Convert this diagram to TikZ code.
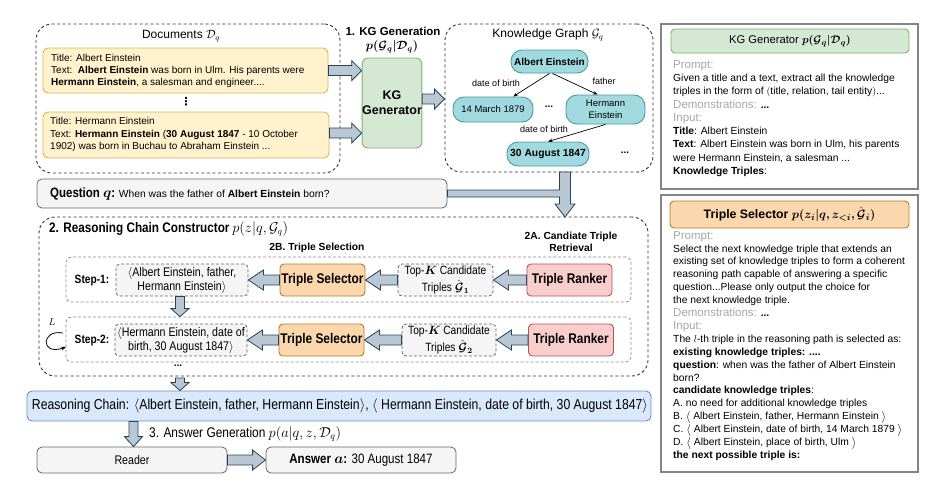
\documentclass[tikz,border=0pt]{standalone}
\usepackage{amsmath,amssymb}
\usepackage{bm}
\usepackage{graphicx}
\usepackage{fontspec}
\setmainfont{Liberation Sans}
\newfontfamily\nf[FakeStretch=0.85]{Liberation Sans}
\newfontfamily\djv{DejaVu Sans}
\usetikzlibrary{calc,arrows.meta}
\definecolor{ylwF}{HTML}{FFF2CC}\definecolor{ylwD}{HTML}{D6B656}
\definecolor{grnF}{HTML}{D5E8D4}\definecolor{grnD}{HTML}{82B366}
\definecolor{bluF}{HTML}{DAE8FC}\definecolor{bluD}{HTML}{6C8EBF}
\definecolor{orgF}{HTML}{FAD7AC}\definecolor{orgD}{HTML}{C07A1E}
\definecolor{redF}{HTML}{F8CECC}\definecolor{redD}{HTML}{B85450}
\definecolor{gryF}{HTML}{F5F5F5}\definecolor{gryD}{HTML}{666666}
\definecolor{tealF}{HTML}{A0DADE}\definecolor{tealD}{HTML}{4A9AA2}
\definecolor{arrF}{HTML}{BAC8D3}\definecolor{arrD}{HTML}{23445D}
\definecolor{promptgray}{HTML}{A6A6A6}
\definecolor{panelD}{HTML}{858585}
\newcommand\pl{\fontsize{11.5}{13}\selectfont\color{promptgray}}
\newcommand\lang{\smash{\raisebox{-0.5pt}{\scalebox{1.2}{$\langle$}}}}
\newcommand\rang{\smash{\raisebox{-0.5pt}{\scalebox{1.2}{$\rangle$}}}}
% right-pointing block arrow: from #2 (source anchor) to #3 (target anchor)
\newcommand\arrR[3][11pt]{\path[barrow] let \p1=(#2), \p2=(#3) in
  (\x1,\y1+5pt) -- (\x2-#1,\y1+5pt) -- (\x2-#1,\y1+10pt) -- (\x2,\y1)
  -- (\x2-#1,\y1-10pt) -- (\x2-#1,\y1-5pt) -- (\x1,\y1-5pt) -- cycle;}
% left-pointing block arrow
\newcommand\arrL[3][11pt]{\path[barrow] let \p1=(#2), \p2=(#3) in
  (\x1,\y1+5pt) -- (\x2+#1,\y1+5pt) -- (\x2+#1,\y1+10pt) -- (\x2,\y1)
  -- (\x2+#1,\y1-10pt) -- (\x2+#1,\y1-5pt) -- (\x1,\y1-5pt) -- cycle;}
% down-pointing block arrow: x from #2, start y from #3, end y from #4
\newcommand\arrD[4][9pt]{\path[barrow] let \p1=(#2), \p2=(#3), \p3=(#4) in
  (\x1-4.5pt,\y2) -- (\x1-4.5pt,\y3+#1) -- (\x1-9pt,\y3+#1) -- (\x1,\y3)
  -- (\x1+9pt,\y3+#1) -- (\x1+4.5pt,\y3+#1) -- (\x1+4.5pt,\y2) -- cycle;}
\tikzset{
  barrow/.style={draw=arrD, fill=arrF, line width=0.8pt, line join=miter},
  dashbox/.style={draw=black!80, line width=0.9pt, dash pattern=on 3pt off 2.5pt, rounded corners=16pt, inner sep=0pt},
  stepbox/.style={draw=black!45, line width=0.8pt, dash pattern=on 3pt off 2pt, rounded corners=5pt, inner sep=0pt},
  docbox/.style={draw=ylwD, fill=ylwF, line width=0.9pt, rounded corners=5pt, inner sep=0pt},
  greenbox/.style={draw=grnD, fill=grnF, line width=0.9pt, rounded corners=6pt, inner sep=0pt, align=center},
  orangebox/.style={draw=orgD, fill=orgF, line width=0.9pt, rounded corners=4pt, inner sep=0pt, align=center},
  redbox/.style={draw=redD, fill=redF, line width=0.9pt, rounded corners=4pt, inner sep=0pt, align=center},
  graybox/.style={draw=gryD, fill=gryF, line width=0.8pt, rounded corners=5pt, inner sep=0pt},
  dgraybox/.style={draw=gryD, fill=gryF, line width=0.8pt, dash pattern=on 3pt off 2pt, rounded corners=4pt, inner sep=0pt, align=center},
  bluebox/.style={draw=bluD, fill=bluF, line width=0.9pt, rounded corners=5pt, inner sep=0pt},
  entity/.style={draw=tealD, fill=tealF, line width=0.9pt, rounded corners=11pt, inner sep=0pt, align=center, font=\fontsize{9.5}{11.5}\selectfont},
  panel/.style={draw=panelD, line width=1.2pt, inner sep=0pt},
  txt/.style={inner sep=0pt, align=left},
  kgedge/.style={-{Stealth[length=4.5pt,width=3.5pt]}, line width=0.7pt},
  elabel/.style={inner sep=0pt, font=\fontsize{9}{11}\selectfont},
  steplab/.style={inner sep=0pt, font=\nf\bfseries\fontsize{12}{14}\selectfont},
  restxt/.style={font=\nf\fontsize{12.5}{14}\selectfont},
  topktxt/.style={font=\nf\fontsize{12}{17}\selectfont},
  bigtxt/.style={font=\nf\bfseries\fontsize{14}{16}\selectfont},
}
\begin{document}
\begin{tikzpicture}[x=1pt,y=-1pt]
\useasboundingbox (0,0) rectangle (934,488);

% ---------- Documents ----------
\node[dashbox, minimum width=304pt, minimum height=149pt] (docs) at (188,98.5) {};
\node[inner sep=0pt, font=\fontsize{12}{14}\selectfont] (docstitle) at (181,36) {Documents $\mathcal{D}_q$};
\node[docbox, minimum width=285pt, minimum height=45pt] (doc1) at (185.5,70.5) {};
\node[txt, anchor=west, font=\fontsize{10}{12}\selectfont] (doc1t) at (51,70.5) {Title: Albert Einstein\\
Text:\ \ \textbf{Albert Einstein} was born in Ulm. His parents were\\
\textbf{Hermann Einstein}, a salesman and engineer....};
\node[inner sep=0pt, font=\djv\bfseries\fontsize{11}{11}\selectfont] (vdots) at (186,102) {⋮};
\node[docbox, minimum width=286pt, minimum height=46pt] (doc2) at (186,135) {};
\node[txt, anchor=west, font=\fontsize{10}{12.5}\selectfont] (doc2t) at (50,134.5) {Title: Hermann Einstein\\
Text: \textbf{Hermann Einstein} (\textbf{30 August 1847} - 10 October\\
1902) was born in Buchau to Abraham Einstein ...};

% ---------- KG Generator ----------
\node[inner sep=0pt, font=\bfseries\fontsize{11.5}{14}\selectfont] (kgtitle) at (393,31) {1. KG Generation};
\node[inner sep=0pt, font=\fontsize{12}{14}\selectfont] (kgprob) at (392,47) {$\bm{p(\mathcal{G}_q|\mathcal{D}_q)}$};
\node[greenbox, minimum width=58pt, minimum height=90pt, font=\bfseries\fontsize{12.5}{15}\selectfont] (kggen) at (392,103) {KG\\Generator};

% ---------- Knowledge Graph ----------
\node[dashbox, minimum width=208pt, minimum height=148pt] (kgbox) at (549,98) {};
\node[inner sep=0pt, font=\fontsize{12}{14}\selectfont] (kgbtitle) at (548,35) {Knowledge Graph $\mathcal{G}_q$};
\node[entity, minimum width=77pt, minimum height=23pt] (ae) at (549.5,61.5) {\bfseries\fontsize{10}{12}\selectfont Albert Einstein};
\node[entity, minimum width=80pt, minimum height=25pt] (mar) at (493,109.5) {14 March 1879};
\node[entity, minimum width=79pt, minimum height=29pt] (he) at (605.5,109.5) {Hermann\\Einstein};
\node[entity, minimum width=82pt, minimum height=24pt] (aug) at (548,154) {\bfseries\fontsize{10.3}{12}\selectfont 30 August 1847};
\node[inner sep=0pt, font=\bfseries\fontsize{10}{12}\selectfont] (kgdots1) at (549,107) {...};
\node[inner sep=0pt, font=\bfseries\fontsize{10}{12}\selectfont] (kgdots2) at (625,153) {...};
\draw[kgedge] (ae.south) -- ($(mar.north)!0.5!(mar.north east)$);
\draw[kgedge] ($(ae.south)+(3,0)$) -- ($(he.north)!0.2!(he.north west)$);
\draw[kgedge] (he.south) -- (aug.north);
\node[elabel] (l1) at (496,83) {date of birth};
\node[elabel] (l2) at (604,81) {father};
\node[elabel] (l3) at (544,129) {date of birth};

% ---------- arrows into/out of KG generator ----------
\arrR[10pt]{doc1.east}{kggen.west}
\arrR[10pt]{$(doc2.east)+(0,-2)$}{kggen.west}
\arrR[10pt]{$(kggen.east)+(0,-4)$}{kgbox.west}

% ---------- Question ----------
\node[graybox, minimum width=410pt, minimum height=29pt] (question) at (242,193.5) {};
\node[txt, anchor=west] (qtext) at (50,194) {{\nf\bfseries\fontsize{13.5}{15}\selectfont Question $\bm{q}$:} {\fontsize{10.3}{12}\selectfont When was the father of \textbf{Albert Einstein} born?}};

% ---------- Reasoning chain constructor ----------
\node[dashbox, minimum width=609pt, minimum height=159pt] (rcbox) at (343.5,296.5) {};
\coordinate (kgout) at (565,172);
\coordinate (rcin) at (565,217);
\path[barrow] let \p1=(question.east), \p2=(kgout), \p3=(rcin) in
  (\x2+5.5pt,\y2) -- (\x2+5.5pt,\y3+13pt) -- (\x2+10pt,\y3+13pt) -- (\x2,\y3) -- (\x2-10pt,\y3+13pt)
  -- (\x2-5.5pt,\y3+13pt) -- (\x2-5.5pt,\y1-3.5pt) -- (\x1,\y1-3.5pt) -- (\x1,\y1+3.5pt)
  -- (\x2-5.5pt,\y1+3.5pt) -- (\x2-5.5pt,\y2) -- cycle;

\node[txt, anchor=west] (rctitle) at (49,229) {{\nf\bfseries\fontsize{13.8}{15}\selectfont 2. Reasoning Chain Constructor} {\fontsize{13.5}{14}\selectfont$p(z|q,\mathcal{G}_q)$}};
\node[inner sep=0pt, font=\bfseries\fontsize{10.3}{12}\selectfont] (sel) at (317,248) {2B. Triple Selection};
\node[inner sep=0pt, align=center, font=\bfseries\fontsize{10.3}{12.5}\selectfont] (ret) at (571,242) {2A. Candiate Triple\\Retrieval};

\node[stepbox, minimum width=565pt, minimum height=45pt] (s1box) at (348.5,279.5) {};
\node[stepbox, minimum width=565pt, minimum height=45pt] (s2box) at (348.5,339.5) {};
\node[steplab] (s1lab) at (92,281) {Step-1:};
\node[steplab] (s2lab) at (92,341) {Step-2:};

\node[dgraybox, restxt, minimum width=132pt, minimum height=32pt] (res1) at (182,280) {$\langle$Albert Einstein, father,\\Hermann Einstein$\rangle$};
\node[orangebox, bigtxt, minimum width=85pt, minimum height=32pt] (ts1) at (322.5,280) {Triple Selector};
\node[dgraybox, topktxt, minimum width=95pt, minimum height=32pt] (tk1) at (445.5,280) {Top-$\bm{K}$ Candidate\\Triples $\bm{\hat{\mathcal{G}}_1}$};
\node[redbox, bigtxt, minimum width=85pt, minimum height=32pt] (tr1) at (569.5,280) {Triple Ranker};

\node[dgraybox, restxt, minimum width=132pt, minimum height=32pt] (res2) at (181,340) {$\langle$Hermann Einstein, date of\\birth, 30 August 1847$\rangle$};
\node[orangebox, bigtxt, minimum width=85pt, minimum height=32pt] (ts2) at (321.5,340) {Triple Selector};
\node[dgraybox, topktxt, minimum width=94pt, minimum height=32pt] (tk2) at (449,340) {Top-$\bm{K}$ Candidate\\Triples $\bm{\hat{\mathcal{G}}_2}$};
\node[redbox, bigtxt, minimum width=85pt, minimum height=32pt] (tr2) at (571,340) {Triple Ranker};

\arrL[15pt]{tr1.west}{tk1.east}
\arrL[15pt]{tk1.west}{ts1.east}
\arrL[15pt]{ts1.west}{res1.east}
\arrL[15pt]{tr2.west}{tk2.east}
\arrL[15pt]{tk2.west}{ts2.east}
\arrL[15pt]{ts2.west}{res2.east}
\arrD[8pt]{$(res1.south)+(-2,0)$}{res1.south}{s2box.north}

\node[inner sep=0pt] (Lab) at (52,322) {$L$};
\coordinate (loopA) at (63,333);
\coordinate (loopB) at (66,347);
\draw[-{Stealth[length=5pt,width=4pt]}, line width=0.8pt] (loopA) .. controls (41,329) and (40,356) .. (loopB);

\node[inner sep=0pt, font=\bfseries\fontsize{10}{12}\selectfont] (rdots) at (178,366) {...};

% ---------- Reasoning chain ----------
\node[bluebox, minimum width=624pt, minimum height=30pt] (chain) at (339,406) {};
\node[inner sep=0pt, font=\nf\fontsize{14.4}{16}\selectfont] (chaint) at (340,406) {Reasoning Chain: $\langle$Albert Einstein, father, Hermann Einstein$\rangle$, $\langle$ Hermann Einstein, date of birth, 30 August 1847$\rangle$};
\coordinate (rcbot) at (180,378);
\arrD[8pt]{rcbot}{rcbot}{chain.north}

% ---------- Answer generation ----------
\node[graybox, minimum width=190pt, minimum height=26pt, font=\nf\fontsize{12.5}{14}\selectfont] (reader) at (132,460) {Reader};
\node[graybox, minimum width=190pt, minimum height=26pt, font=\nf\fontsize{13.6}{15}\selectfont] (answer) at (361,460) {\textbf{Answer} $\bm{a}$\textbf{:} 30 August 1847};
\node[inner sep=0pt, anchor=west, font=\nf\fontsize{14}{16}\selectfont] (agtitle) at (149,434) {3. Answer Generation $p(a|q,z,\mathcal{D}_q)$};
\arrD[10pt]{$(reader.north)+(1.5,0)$}{chain.south}{reader.north}
\arrR[13pt]{reader.east}{answer.west}

% ---------- Right panel: KG Generator prompt ----------
\node[panel, minimum width=257pt, minimum height=165pt] (p1) at (789.5,106.5) {};
\node[greenbox, rounded corners=4pt, minimum width=238pt, minimum height=24pt, font=\fontsize{11.2}{13}\selectfont] (p1h) at (790,41) {KG Generator $\bm{p(\mathcal{G}_q|\mathcal{D}_q)}$};
\node[txt, anchor=north west, font=\fontsize{10.3}{13.3}\selectfont] (p1t) at (673,60) {{\pl Prompt:}\\
Given a title and a text, extract all the knowledge\\
triples in the form of $($title, relation, tail entity$)$...\\
{\pl Demonstrations:} \textbf{...}\\
{\pl Input:}\\
\textbf{Title}: Albert Einstein\\
\textbf{Text}: Albert Einstein was born in Ulm, his parents\\
were Hermann Einstein, a salesman ...\\
\textbf{Knowledge Triples}:};

% ---------- Right panel: Triple Selector prompt ----------
\node[panel, minimum width=257pt, minimum height=277pt] (p2) at (789.5,333.5) {};
\node[orangebox, minimum width=239pt, minimum height=27pt, font=\bfseries\fontsize{12.3}{14}\selectfont] (p2h) at (789.5,214.5) {Triple Selector $\bm{p(z_i|q,z_{<i},\hat{\mathcal{G}}_i)}$};
\node[txt, anchor=north west, font=\fontsize{10.3}{12.9}\selectfont] (p2t) at (673,231) {{\pl Prompt:}\\
Select the next knowledge triple that extends an\\
existing set of knowledge triples to form a coherent\\
reasoning path capable of answering a specific\\
question...Please only output the choice for\\
the next knowledge triple.\\
{\pl Demonstrations:} \textbf{...}\\
{\pl Input:}\\
The $l$-th triple in the reasoning path is selected as:\\
\textbf{existing knowledge triples: ....}\\
\textbf{question}: when was the father of Albert Einstein\\
born?\\
\textbf{candidate knowledge triples}:\\
A. no need for additional knowledge triples\\
B. \lang\ Albert Einstein, father, Hermann Einstein \rang\\
C. \lang\ Albert Einstein, date of birth, 14 March 1879 \rang\\
D. \lang\ Albert Einstein, place of birth, Ulm \rang\\
\textbf{the next possible triple is:}};
\end{tikzpicture}
\end{document}
